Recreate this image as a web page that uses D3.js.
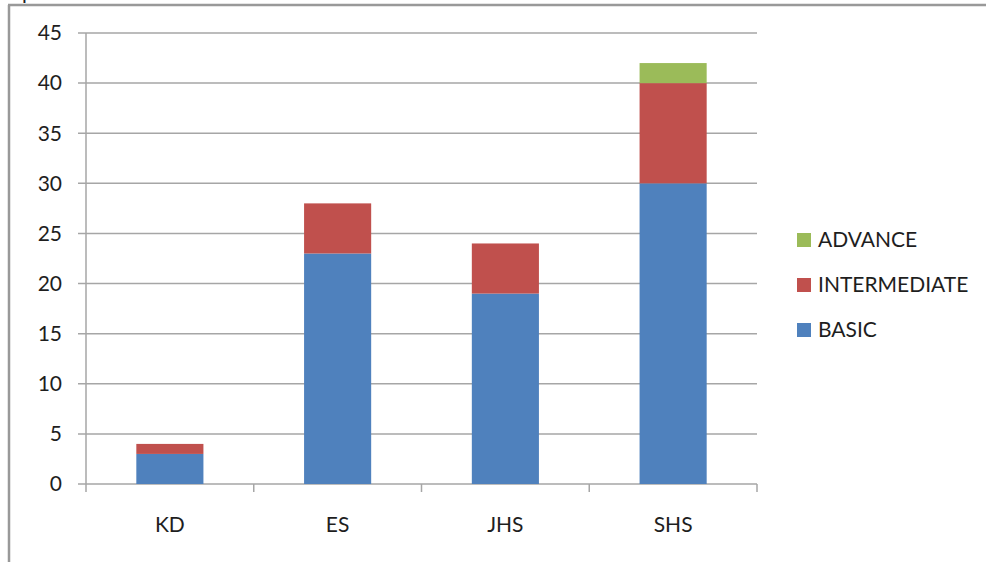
<!DOCTYPE html>
<html>
<head>
<meta charset="utf-8">
<script src="https://cdn.jsdelivr.net/npm/d3@7"></script>
<style>
  body { margin: 0; background: #fff; }
  text { font-family: Lato, "Open Sans", sans-serif; fill: #1e1e1e; }
</style>
</head>
<body>
<div id="chart"></div>
<script>
const categories = ["KD", "ES", "JHS", "SHS"];
const basic = [3, 23, 19, 30];
const intermediate = [1, 5, 5, 10];
const advance = [0, 0, 0, 2];
const yTicks = [0, 5, 10, 15, 20, 25, 30, 35, 40, 45];
const seriesNames = ["BASIC", "INTERMEDIATE", "ADVANCE"];
const colors = {BASIC: "#4F81BD", INTERMEDIATE: "#C0504D", ADVANCE: "#9BBB59"};

const width = 986, height = 562;
const plotLeft = 86, plotRight = 757, plotTop = 33, plotBottom = 484;
const fontSize = "21px";

const svg = d3.select("#chart").append("svg")
    .attr("width", width)
    .attr("height", height);

// frame of the surrounding document
svg.append("line").attr("x1", 9).attr("x2", 9).attr("y1", 5).attr("y2", height)
    .attr("stroke", "#999").attr("stroke-width", 2.5);
svg.append("line").attr("x1", 8).attr("x2", width).attr("y1", 5).attr("y2", 5)
    .attr("stroke", "#999").attr("stroke-width", 2.5);
svg.append("text").attr("x", 22).attr("y", -1).style("font-size", fontSize).text("p");

var x = d3.scaleBand().domain(categories).range([plotLeft, plotRight]).paddingInner(0.6).paddingOuter(0.3);
var xEdge = d3.scaleLinear().domain([0, categories.length]).range([plotLeft, plotRight]);
var y = d3.scaleLinear().domain([0, 45]).range([plotBottom, plotTop]);

// gridlines
svg.selectAll(".grid").data(yTicks).enter().append("line")
    .attr("x1", plotLeft - 8).attr("x2", plotRight)
    .attr("y1", d => y(d)).attr("y2", d => y(d))
    .attr("stroke", "#a6a6a6").attr("stroke-width", 1.5);

svg.append("line").attr("x1", plotLeft).attr("x2", plotLeft).attr("y1", plotTop).attr("y2", plotBottom)
    .attr("stroke", "#a6a6a6").attr("stroke-width", 1.5);

svg.selectAll(".ylab").data(yTicks).enter().append("text")
    .attr("x", 62).attr("y", d => y(d)).attr("dy", "0.35em")
    .attr("text-anchor", "end").style("font-size", fontSize)
    .text(d => d);

// category ticks
svg.selectAll(".xtick").data(d3.range(categories.length + 1)).enter().append("line")
    .attr("x1", d => xEdge(d)).attr("x2", d => xEdge(d))
    .attr("y1", plotBottom).attr("y2", plotBottom + 8)
    .attr("stroke", "#a6a6a6").attr("stroke-width", 1.5);

svg.selectAll(".xlab").data(categories).enter().append("text")
    .attr("x", d => x(d) + x.bandwidth() / 2).attr("y", 532)
    .attr("text-anchor", "middle").style("font-size", fontSize)
    .text(d => d);

// stacked bars
const rows = categories.map((c, i) => ({cat: c, BASIC: basic[i], INTERMEDIATE: intermediate[i], ADVANCE: advance[i]}));
const stacked = d3.stack().keys(seriesNames)(rows);

svg.selectAll(".series").data(stacked).enter().append("g")
    .attr("fill", d => colors[d.key])
    .selectAll("rect").data(d => d.filter(p => p[1] > p[0])).enter().append("rect")
    .attr("x", d => x(d.data.cat))
    .attr("width", x.bandwidth())
    .attr("y", d => y(d[1]))
    .attr("height", d => y(d[0]) - y(d[1]));

// legend
const legendItems = ["ADVANCE", "INTERMEDIATE", "BASIC"];
const legend = svg.selectAll(".legend").data(legendItems).enter().append("g")
    .attr("transform", (d, i) => "translate(797," + (240 + i * 45) + ")");
legend.append("rect").attr("x", 0).attr("y", -7).attr("width", 14).attr("height", 14)
    .attr("fill", d => colors[d]);
legend.append("text").attr("x", 21).attr("y", 0).attr("dy", "0.35em")
    .style("font-size", fontSize).text(d => d);
</script>
</body>
</html>
